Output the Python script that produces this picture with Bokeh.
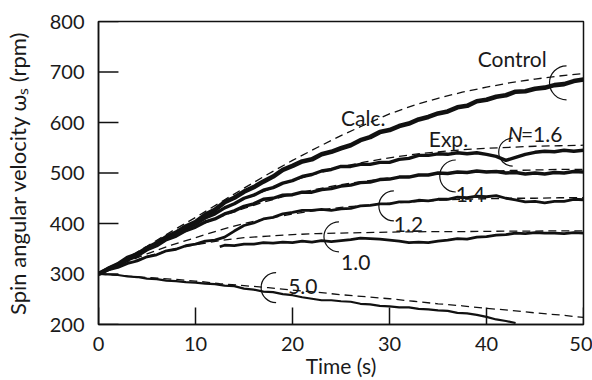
import math
from bokeh.plotting import figure
from bokeh.models import Label, Range1d, FixedTicker
from bokeh.embed import file_html
from bokeh.resources import INLINE

# ---------------- data ----------------
x_ticks = [0, 10, 20, 30, 40, 50]
y_ticks = [200, 300, 400, 500, 600, 700, 800]

time_calc = [0, 2.5, 5, 7.5, 10, 12.5, 15, 17.5, 20, 22.5, 25, 27.5, 30,
             32.5, 35, 37.5, 40, 42.5, 45, 47.5, 50]
calc_control = [300, 327, 355, 384, 412, 441, 470, 498, 525, 550, 574, 596, 617,
                634, 648, 660, 670, 679, 686, 692, 697]
calc_n16 = [300, 325, 350, 376, 402, 426, 448, 467, 485, 499, 512, 522, 530,
            537, 542, 546, 549, 551, 553, 554, 555]
calc_n14 = [300, 324, 347, 371, 393, 413, 430, 445, 458, 468, 477, 484, 490,
            494, 498, 501, 503, 505, 506, 507, 507]
calc_n12 = [300, 321, 340, 357, 372, 387, 400, 410, 419, 426, 432, 436, 440,
            443, 446, 448, 449, 450, 450, 451, 451]
calc_n10 = [300, 318, 335, 348, 358, 366, 372, 375, 378, 380, 381, 382, 383,
            383.5, 384, 384, 384.5, 385, 385, 385.5, 385.5]
calc_n50 = [300, 297, 293, 290, 286, 281, 277, 273, 268, 264, 259, 255, 251,
            246, 241, 237, 232, 228, 223, 219, 214]

time_exp = list(range(0, 51))
exp_control = [300, 310, 319, 332, 339, 351, 361, 373, 382, 394, 403, 417, 427, 442, 451,
               463, 472, 483, 493, 506, 514, 523, 527, 537, 542, 549, 555, 565, 571, 581,
               585, 593, 598, 606, 611, 618, 622, 630, 633, 642, 645, 651, 654, 661, 662,
               667, 669, 674, 676, 682, 685]
exp_n16 = [300, 311, 319, 331, 339, 351, 359, 371, 379, 391, 399, 411, 419, 431, 439,
           450, 456, 466, 471, 480, 485, 493, 497, 504, 507, 513, 513, 517, 517, 521,
           521, 527, 529, 535, 535, 538, 537, 540, 538, 540, 537, 533, 525, 531, 537,
           541, 543, 542, 545, 543, 545]
exp_n14 = [300, 310, 317, 328, 336, 348, 356, 368, 375, 386, 393, 403, 409, 419, 425,
           434, 439, 448, 450, 456, 457, 462, 462, 467, 469, 474, 476, 481, 482, 487,
           488, 492, 492, 496, 496, 500, 499, 502, 501, 504, 502, 503, 500, 501, 498,
           500, 498, 501, 500, 503, 502]
exp_n12 = [300, 308, 313, 321, 326, 334, 338, 346, 349, 356, 359, 365, 367, 373, 385,
           396, 401, 409, 412, 419, 422, 426, 426, 428, 426, 429, 430, 435, 436, 439,
           439, 443, 443, 446, 445, 448, 448, 452, 451, 454, 453, 455, 450, 447, 443,
           444, 441, 444, 444, 448, 447]
time_exp_n10 = [12.5, 13, 14, 15, 16, 17, 18, 19, 20, 21, 22, 23, 24, 25, 26, 27, 28, 29,
                30, 31, 32, 33, 34, 35, 36, 37, 38, 39, 40, 41, 42, 43, 44, 45, 46, 47,
                48, 49, 50]
exp_n10 = [354, 357, 356, 359, 359, 362, 361, 363, 362, 365, 363, 366, 364, 366, 368,
           371, 370, 369, 367, 365, 362, 363, 362, 365, 367, 370, 369, 373, 374, 377,
           378, 381, 380, 382, 381, 381, 380, 382, 381]
time_exp_n50 = list(range(0, 44))
exp_n50 = [300, 299, 298, 295, 294, 291, 290, 287, 286, 284, 283, 281, 280, 277, 276,
           271, 269, 265, 264, 260, 258, 254, 251, 248, 248, 246, 245, 241, 240, 237,
           236, 234, 234, 231, 230, 228, 227, 223, 222, 219, 215, 210, 207, 203]

# bracket markers (centre in data units)
bracket_x = [48.25, 42.7, 36.83, 30.45, 24.79, 18.31]
bracket_y = [678.6, 541.4, 494.1, 434.9, 373.7, 273.0]
bracket_r = [17, 14, 16, 15, 15, 15]

FONT = "Lato"
INK = "#111111"
X0, X1, Y0, Y1 = 0, 50, 200, 800

# ---------------- figure ----------------
p = figure(width=592, height=380, x_range=Range1d(X0, X1), y_range=Range1d(Y0, Y1),
           output_backend="svg", toolbar_location=None,
           min_border_left=97, min_border_right=9, min_border_top=21, min_border_bottom=55)
p.grid.visible = False
p.background_fill_color = "white"
p.border_fill_color = "white"
p.outline_line_color = INK
p.outline_line_width = 1.5
p.outline_line_alpha = 1.0

p.xaxis.ticker = FixedTicker(ticks=x_ticks)
p.yaxis.ticker = FixedTicker(ticks=y_ticks)
for ax in (p.xaxis[0], p.yaxis[0]):
    ax.axis_line_color = INK
    ax.axis_line_width = 1.5
    ax.major_tick_line_color = None
    ax.major_tick_out = 0
    ax.major_tick_in = 0
    ax.minor_tick_in = 0
    ax.minor_tick_out = 0
    ax.major_label_text_font = FONT
    ax.major_label_text_font_size = "20px"
    ax.major_label_text_color = "#1a1a1a"
    ax.axis_label_text_font = FONT
    ax.axis_label_text_font_style = "normal"
    ax.axis_label_text_color = "#1a1a1a"
p.xaxis[0].major_label_standoff = 12
p.yaxis[0].major_label_standoff = 14
p.xaxis[0].axis_label = "Time (s)"
p.xaxis[0].axis_label_text_font_size = "21px"
p.xaxis[0].axis_label_standoff = -1
p.yaxis[0].axis_label = "Spin angular velocity ωₛ (rpm)"
p.yaxis[0].axis_label_text_font_size = "22px"
p.yaxis[0].axis_label_standoff = 16

# inward tick marks at the axis tick positions (17 px / 20 px long)
xt_len = 17 * (Y1 - Y0) / 304.0
yt_len = 20 * (X1 - X0) / 486.0
p.segment(x0=x_ticks, y0=[Y0] * len(x_ticks), x1=x_ticks, y1=[Y0 + xt_len] * len(x_ticks),
          line_color=INK, line_width=1.5)
p.segment(x0=[X0] * len(y_ticks), y0=y_ticks, x1=[X0 + yt_len] * len(y_ticks), y1=y_ticks,
          line_color=INK, line_width=1.5)

# calc (dashed)
for ys in (calc_control, calc_n16, calc_n14, calc_n12, calc_n10, calc_n50):
    p.line(time_calc, ys, line_color=INK, line_width=1.3, line_dash="8 5")

# experiments (thick noisy)
p.line(time_exp, exp_control, line_color=INK, line_width=4.6, line_join="round")
p.line(time_exp, exp_n16, line_color=INK, line_width=3.4, line_join="round")
p.line(time_exp, exp_n14, line_color=INK, line_width=3.4, line_join="round")
p.line(time_exp, exp_n12, line_color=INK, line_width=2.8, line_join="round")
p.line(time_exp_n10, exp_n10, line_color=INK, line_width=2.8, line_join="round")
p.line(time_exp_n50, exp_n50, line_color=INK, line_width=2.2, line_join="round")

# brackets
p.arc(x=bracket_x, y=bracket_y, radius=bracket_r, radius_units="screen",
      start_angle=math.pi / 2, end_angle=3 * math.pi / 2,
      line_color=INK, line_width=1.2)


def lab(x, y, text, size="21px", style="normal", align="left"):
    p.add_layout(Label(x=x, y=y, text=text, text_font=FONT, text_font_size=size,
                       text_font_style=style, text_color="#1a1a1a",
                       text_align=align, text_baseline="alphabetic"))


lab(39.1, 727, "Control")
lab(25.0, 610.5, "Calc.")
lab(34.05, 569.1, "Exp.")
lab(42.18, 578.9, "N", style="italic")
lab(43.55, 578.9, "=1.6")
lab(36.83, 456.6, "1.4")
lab(30.45, 397.4, "1.2")
lab(25.0, 322.4, "1.0")
lab(19.55, 275, "5.0")

open("out.html", "w").write(file_html(p, INLINE))
